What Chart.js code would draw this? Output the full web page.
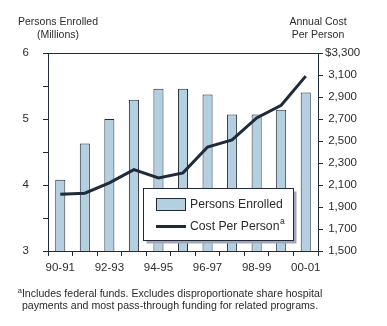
<!DOCTYPE html>
<html lang="en">
<head>
<meta charset="UTF-8">
<title>Persons Enrolled and Annual Cost Per Person</title>
<script src="https://cdn.jsdelivr.net/npm/chart.js"></script>
<style>
  body { margin: 0; background: #fff; }
  .wrap { position: relative; width: 387px; height: 326px; font-family: "Liberation Sans", Arial, sans-serif; color: #2b2b2b; }
  .wrap canvas { position: absolute; left: 0; top: 0; }
  .head { position: absolute; text-align: center; font-size: 10.5px; line-height: 12.6px; }
  .note { position: absolute; left: 0; top: 287.5px; width: 340px; text-align: center; font-size: 10.6px; line-height: 11px; }
  .note .sup { font-size: 7.5px; position: relative; top: -4px; }
</style>
</head>
<body>
<div class="wrap">
  <canvas id="chart" width="387" height="326"></canvas>
  <div class="head" style="left:0; top:15px; width:116px;">Persons Enrolled<br>(Millions)</div>
  <div class="head" style="left:268px; top:15px; width:100px;">Annual Cost<br>Per Person</div>
  <div class="note"><span class="sup">a</span>Includes federal funds. Excludes disproportionate share hospital<br>payments and most pass-through funding for related programs.</div>
</div>
<script>
// fiscal years
const years = ['90-91', '91-92', '92-93', '93-94', '94-95', '95-96', '96-97', '97-98', '98-99', '99-00', '00-01'];
// persons enrolled, millions
const enrolled = [4.08, 4.63, 5.0, 5.29, 5.46, 5.46, 5.37, 5.07, 5.07, 5.14, 5.40];
// annual cost per person, dollars
const costPerPerson = [2015, 2025, 2120, 2240, 2165, 2210, 2445, 2510, 2710, 2825, 3090];

const dark = '#1f2b3a';
const barFill = '#b4cfdf';
const textColor = '#2b2b2b';
const tickFont = { family: '"Liberation Sans", Arial, sans-serif', size: 11.5 };

// boxed legend sitting inside the plot, with a drop shadow
const legendBox = {
  id: 'legendBox',
  afterDatasetsDraw(chart) {
    const ctx = chart.ctx;
    const x = 143.5, y = 188.5, w = 150, h = 52;
    const barSet = chart.data.datasets[1];
    const lineSet = chart.data.datasets[0];
    ctx.save();
    ctx.fillStyle = '#a2a6b8';
    ctx.fillRect(x + 3, y + 3, w, h);
    ctx.fillStyle = '#fff';
    ctx.fillRect(x, y, w, h);
    ctx.strokeStyle = dark;
    ctx.lineWidth = 1;
    ctx.strokeRect(x, y, w, h);

    // bar swatch
    ctx.fillStyle = barSet.backgroundColor;
    ctx.fillRect(156.5, 198.5, 29, 12);
    ctx.strokeRect(156.5, 198.5, 29, 12);
    // line swatch
    ctx.strokeStyle = lineSet.borderColor;
    ctx.lineWidth = 3;
    ctx.beginPath();
    ctx.moveTo(156, 226.5);
    ctx.lineTo(186, 226.5);
    ctx.stroke();

    ctx.fillStyle = textColor;
    ctx.textBaseline = 'middle';
    ctx.font = '12.2px "Liberation Sans", Arial, sans-serif';
    ctx.fillText(barSet.label, 190, 204.5);
    ctx.fillText(lineSet.label, 190, 226.5);
    const wLine = ctx.measureText(lineSet.label).width;
    ctx.font = '8.5px "Liberation Sans", Arial, sans-serif';
    ctx.fillText('a', 190 + wLine + 0.5, 222);
    ctx.restore();
  }
};

new Chart(document.getElementById('chart'), {
  data: {
    labels: years,
    datasets: [
      {
        type: 'line',
        label: 'Cost Per Person',
        data: costPerPerson,
        yAxisID: 'cost',
        borderColor: dark,
        borderWidth: 3,
        pointRadius: 0,
        tension: 0,
        order: 0
      },
      {
        type: 'bar',
        label: 'Persons Enrolled',
        data: enrolled,
        yAxisID: 'people',
        backgroundColor: barFill,
        borderColor: dark,
        borderWidth: 1,
        categoryPercentage: 1,
        barPercentage: 0.41,
        order: 1
      }
    ]
  },
  options: {
    responsive: false,
    animation: false,
    devicePixelRatio: 1,
    layout: { padding: { top: 53, left: 0, right: 0, bottom: 0 } },
    plugins: { legend: { display: false }, tooltip: { enabled: false } },
    scales: {
      x: {
        type: 'category',
        offset: true,
        afterFit: s => { s.height = 75; },
        border: { color: dark, width: 1 },
        grid: { offset: true, drawOnChartArea: false, tickLength: 5, tickColor: dark },
        ticks: {
          autoSkip: false,
          maxRotation: 0,
          padding: 5,
          color: textColor,
          font: tickFont,
          callback: (v, i) => (i % 2 === 0 ? years[i] : '')
        }
      },
      people: {
        position: 'left',
        min: 3,
        max: 6,
        afterFit: s => { s.width = 48; },
        border: { color: dark, width: 1 },
        grid: {
          color: c => (c.tick && c.tick.value === 6 ? dark : 'rgba(0,0,0,0)'),
          tickColor: dark,
          tickLength: 5
        },
        ticks: {
          stepSize: 0.5,
          padding: 14,
          color: textColor,
          font: tickFont,
          callback: v => (Number.isInteger(v) ? String(v) : '')
        }
      },
      cost: {
        position: 'right',
        min: 1500,
        max: 3300,
        afterFit: s => { s.width = 69; },
        border: { color: dark, width: 1 },
        grid: { drawOnChartArea: false, tickColor: dark, tickLength: 5 },
        ticks: {
          stepSize: 200,
          padding: 2,
          crossAlign: 'center',
          color: textColor,
          font: tickFont,
          callback: v => (v === 3300 ? '$3,300' : v.toLocaleString('en-US'))
        }
      }
    }
  },
  plugins: [legendBox]
});
</script>
</body>
</html>
